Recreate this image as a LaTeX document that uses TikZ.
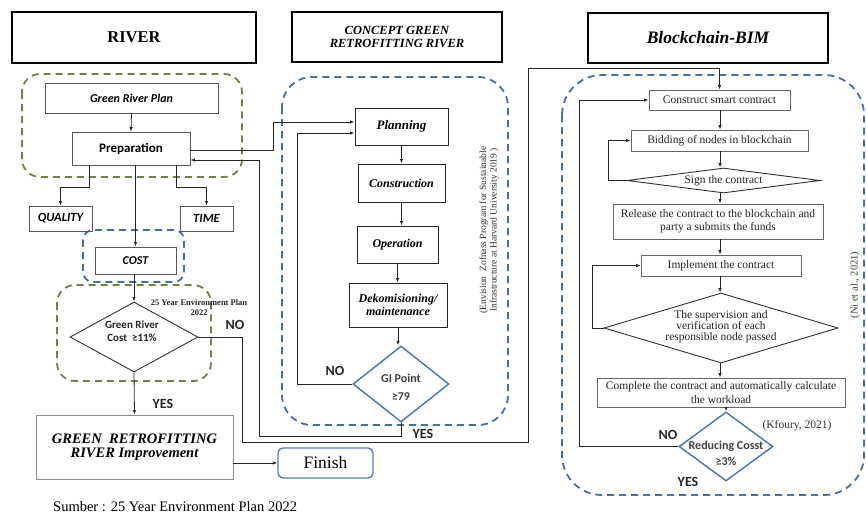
\documentclass[tikz,border=0pt]{standalone}
\usepackage{fontspec}
\setmainfont{Liberation Serif}
\newfontfamily\sansb{Carlito}
\usetikzlibrary{shapes.geometric,arrows.meta}
\definecolor{gdash}{HTML}{6E8346}
\definecolor{bdash}{HTML}{4A6E9E}
\definecolor{dblue}{HTML}{4F73A8}
\definecolor{fblue}{HTML}{5B7FB4}
\tikzset{
  tbox/.style={draw=black, line width=1.8pt, align=center, inner sep=0pt},
  rbox/.style={draw=black!65, line width=0.9pt, inner sep=0pt, align=center},
  cbox/.style={draw=black!85, line width=1pt, inner sep=0pt, align=center},
  bbox/.style={draw=black!60, line width=0.9pt, inner sep=0pt, align=center, text=black!85, font=\fontsize{11.5}{13.5}\selectfont},
  diam/.style={diamond, inner sep=0pt, line width=0.9pt, draw=black!80},
  bdiam/.style={diamond, inner sep=0pt, line width=1.4pt, draw=dblue},
  txt/.style={inner sep=0pt, align=center},
  lbl/.style={inner sep=0pt, font=\sansb\bfseries\fontsize{14}{14}\selectfont, text=black!85},
  arr/.style={-{Latex[length=4.5pt,width=3.5pt]}, draw=black!85, line width=0.8pt},
  conn/.style={draw=black!85, line width=0.8pt},
  greendash/.style={draw=gdash, line width=1.8pt, dash pattern=on 7pt off 5pt, rounded corners=18pt},
  bluedash/.style={draw=bdash, line width=1.8pt, dash pattern=on 7pt off 5pt},
}
\begin{document}
\begin{tikzpicture}[x=1pt,y=-1pt]
\useasboundingbox[fill=white] (0,0) rectangle (866,514);

% ---------- titles
\node[tbox, minimum width=244pt, minimum height=51pt, font=\bfseries\fontsize{16.5}{18}\selectfont] (tRiver) at (134,37.5) {RIVER};
\node[tbox, minimum width=210pt, minimum height=50pt, font=\bfseries\itshape\fontsize{12.5}{13}\selectfont] (tConcept) at (397,37) {CONCEPT GREEN\\RETROFITTING RIVER};
\node[tbox, minimum width=240pt, minimum height=50pt, font=\bfseries\itshape\fontsize{17.5}{19}\selectfont] (tBim) at (708,38) {Blockchain-BIM};

% ---------- group frames
\draw[greendash] (22,74) rectangle (242,177);
\draw[bluedash, rounded corners=10pt] (83,230) rectangle (184,282);
\draw[greendash] (57,285) rectangle (211,381);
\draw[bluedash, rounded corners=30pt] (282,77) rectangle (508,425);
\draw[bluedash, rounded corners=40pt] (562,75) rectangle (864,495);

% ---------- RIVER column
\node[rbox, minimum width=173pt, minimum height=30pt, font=\sansb\bfseries\itshape\fontsize{12}{13}\selectfont] (grp) at (131.5,98) {Green River Plan};
\node[rbox, minimum width=118pt, minimum height=33pt, font=\sansb\bfseries\fontsize{13}{14}\selectfont] (prep) at (131,148.5) {Preparation};
\node[rbox, minimum width=63pt, minimum height=25pt, font=\sansb\bfseries\itshape\fontsize{12.5}{13}\selectfont] (quality) at (60.5,218.5) {QUALITY};
\node[rbox, minimum width=53pt, minimum height=25pt, font=\sansb\bfseries\itshape\fontsize{12.5}{13}\selectfont] (time) at (206.5,218.5) {TIME};
\node[rbox, minimum width=81pt, minimum height=27pt, font=\sansb\bfseries\itshape\fontsize{12}{13}\selectfont] (cost) at (135.5,260.5) {COST};
\node[diam, minimum width=128pt, minimum height=70pt] (d1) at (134,337) {};
\node[txt, font=\sansb\bfseries\fontsize{11}{12.5}\selectfont, text=black!85] (d1t) at (132,331) {Green River\\Cost\ \ ≥11\%};
\node[txt, font=\bfseries\fontsize{8.5}{10}\selectfont, text=black!85] (envplan) at (199,308) {25 Year Environment Plan\\2022};
\node[rbox, draw=black!45, minimum width=197pt, minimum height=64pt, font=\bfseries\itshape\fontsize{14.5}{14.5}\selectfont] (improve) at (134.5,447) {GREEN\ \ RETROFITTING\\RIVER Improvement};
\node[draw=fblue, line width=1.4pt, rounded corners=5pt, minimum width=95pt, minimum height=30pt, inner sep=0pt, font=\fontsize{17.5}{18}\selectfont] (finish) at (325.5,463) {Finish};
\node[inner sep=0pt, anchor=west, font=\fontsize{14.5}{16}\selectfont] (sumber) at (53,507) {Sumber : 25 Year Environment Plan 2022};

\draw[arr] (grp.south) -- (prep.north);
\draw[arr] ([xshift=18pt]prep.south west) -- ++(0,22) -| (quality.north);
\draw[arr] ([xshift=-14pt]prep.south east) -- ++(0,22) -| (time.north);
\draw[arr] (prep.south -| cost.north) -- (cost.north);
\draw[arr] (cost.south -| d1.north) -- (d1.north);
\draw[arr] (d1.south) -- (improve.north);
\draw[arr] (improve.east |- finish.west) -- (finish.west);
\node[lbl] (no1) at (235,325) {NO};
\node[lbl] (yes1) at (163,404) {YES};

% ---------- CONCEPT column
\node[cbox, minimum width=93pt, minimum height=37pt, font=\bfseries\itshape\fontsize{13}{14}\selectfont] (planning) at (401.5,126.5) {Planning};
\node[cbox, minimum width=87pt, minimum height=38pt, font=\bfseries\itshape\fontsize{12}{13}\selectfont] (construction) at (401.5,183) {Construction};
\node[cbox, minimum width=81pt, minimum height=37pt, font=\bfseries\itshape\fontsize{12}{13}\selectfont] (operation) at (397.5,244.5) {Operation};
\node[cbox, minimum width=98pt, minimum height=44pt, font=\bfseries\itshape\fontsize{12}{12.7}\selectfont] (dekom) at (398,305) {Dekomisioning/\\maintenance};
\node[bdiam, minimum width=96pt, minimum height=76pt] (gi) at (401,384) {};
\node[txt, font=\sansb\bfseries\fontsize{12}{18}\selectfont, text=black!75] (git) at (401,387) {GI Point\\≥79};
\node[txt, rotate=90, font=\fontsize{9.5}{10.5}\selectfont, text=black!80] (envision) at (489,230) {(Envision\ \ Zofnass Program for Sustainable\\Infrastructure at Harvard University 2019 )};

\draw[arr] (planning.south) -- (planning.south |- construction.north);
\draw[arr] (construction.south) -- (construction.south |- operation.north);
\draw[arr] (operation.south) -- (operation.south |- dekom.north);
\draw[arr] (dekom.south) -- (dekom.south |- gi.north);
\draw[arr] (gi.west) -- ++(-55,0) |- ([yshift=-6.5pt]planning.west);
\draw[arr] ([yshift=-1.5pt]prep.east) -- ++(83,0) |- ([yshift=4.5pt]planning.west);
\draw[arr] (gi.south) -- ++(0,14) -| ([xshift=69pt,yshift=-11.5pt]prep.east) -- ([yshift=-11.5pt]prep.east);
\node[lbl] (no2) at (335,371) {NO};
\node[lbl] (yes2) at (423,434) {YES};

% ---------- BLOCKCHAIN column
\node[bbox, minimum width=141pt, minimum height=20pt] (construct) at (719.5,100) {Construct smart contract};
\node[bbox, minimum width=177pt, minimum height=21pt] (bidding) at (719.5,140.5) {Bidding of nodes in blockchain};
\node[diam, minimum width=193pt, minimum height=25pt] (sign) at (723.5,180.5) {};
\node[txt, font=\fontsize{11.5}{13}\selectfont, text=black!85] (signt) at (723.5,180.5) {Sign the contract};
\node[bbox, minimum width=210pt, minimum height=35pt, font=\fontsize{11.5}{13.3}\selectfont] (release) at (718,221.5) {Release the contract to the blockchain and\\party a submits the funds};
\node[bbox, minimum width=160pt, minimum height=21pt] (implement) at (721,265.5) {Implement the contract};
\node[diam, minimum width=234pt, minimum height=70pt] (super) at (721,328) {};
\node[txt, font=\fontsize{11.5}{11}\selectfont, text=black!85] (supert) at (721,327) {The supervision and\\verification of each\\responsible node passed};
\node[bbox, minimum width=248pt, minimum height=29pt, font=\fontsize{11.5}{14}\selectfont] (complete) at (721,392.5) {Complete the contract and automatically calculate\\the workload};
\node[bdiam, minimum width=94pt, minimum height=69pt] (reduce) at (726,446.5) {};
\node[txt, font=\sansb\bfseries\fontsize{12}{16}\selectfont, text=black!75] (reducet) at (726,453) {Reducing Cosst\\≥3\%};
\node[txt, font=\fontsize{11.5}{12}\selectfont, text=black!80] (kfoury) at (797,426) {(Kfoury, 2021)};
\node[txt, rotate=90, font=\fontsize{10.5}{11}\selectfont, text=black!75] (ni) at (855,285) {(Ni et al., 2021)};

\draw[arr] (construct.south -| 720,0) -- (bidding.north -| 720,0);
\draw[arr] (bidding.south -| 720,0) -- (sign.north -| 720,0);
\draw[arr] (sign.south -| 720,0) -- (release.north -| 720,0);
\draw[arr] (release.south -| 720,0) -- (implement.north -| 720,0);
\draw[arr] (implement.south -| 720,0) -- (super.north -| 720,0);
\draw[arr] (super.south -| 720,0) -- (complete.north -| 720,0);
\draw[arr] (complete.south -| 726,0) -- (reduce.north);
\draw[arr] (sign.west) -- ++(-18,0) |- (bidding.west);
\draw[arr] (super.west) -- ++(-11,0) |- (implement.west);
\draw[arr] (reduce.west) -- ++(-99,0) |- (construct.west);
\node[lbl] (no3) at (668,435) {NO};
\node[lbl] (yes3) at (688,482) {YES};

% ---------- long connector from Green River Cost (NO) to Blockchain
\coordinate (c1) at (528,442);
\coordinate (c2) at (528,68);
\draw[arr] (d1.east) -- ++(44,0) |- (c1) -- (c2) -| (construct.north);
\end{tikzpicture}
\end{document}
